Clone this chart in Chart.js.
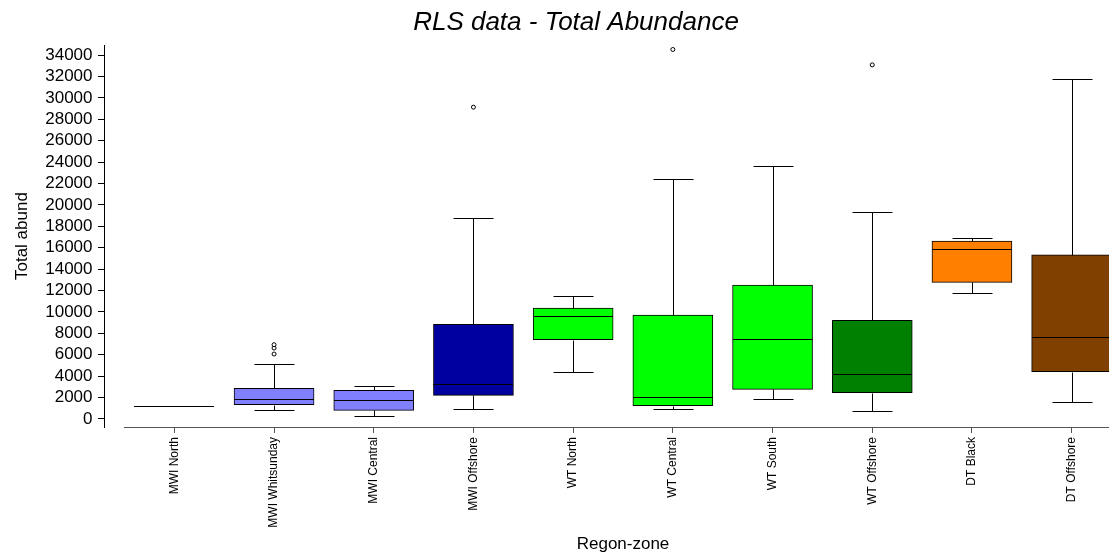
<!DOCTYPE html>
<html>
<head>
<meta charset="utf-8">
<script src="https://cdn.jsdelivr.net/npm/chart.js@4/dist/chart.umd.min.js"></script>
<style>
  html, body { margin: 0; padding: 0; background: #fff; overflow: hidden; }
  #wrap { position: absolute; left: 0; top: 0; width: 1152px; height: 555px; }
</style>
</head>
<body>
<div id="wrap"><canvas id="chart" width="1152" height="555"></canvas></div>
<script>
// Region-zone categories
const regions = ['MWI North', 'MWI Whitsunday', 'MWI Central', 'MWI Offshore', 'WT North',
                 'WT Central', 'WT South', 'WT Offshore', 'DT Black', 'DT Offshore'];

// Box-plot statistics of total abundance per region-zone
const whiskerLow  = [1250,  840,  250,   960,  4360,   900,  1840,   750, 11770,  1590];
const q1          = [1250, 1340,  810,  2210,  7410,  1240,  2770,  2460, 12770,  4420];
const median      = [1250, 1840, 1750,  3270,  9620,  2060,  7500,  4180, 15850,  7630];
const q3          = [1250, 2870, 2680,  8850, 10370,  9710, 12520,  9220, 16630, 15350];
const whiskerHigh = [1250, 5170, 3080, 18780, 11490, 22390, 23600, 19340, 16880, 31790];

// Outlying observations
const outlierRegion = ['MWI Whitsunday', 'MWI Whitsunday', 'MWI Whitsunday', 'MWI Offshore', 'WT Central', 'WT Offshore'];
const outlierValue  = [6070, 6630, 6940, 29140, 34530, 33090];

// Y axis tick values
const yTickValues = [0, 2000, 4000, 6000, 8000, 10000, 12000, 14000, 16000,
                     18000, 20000, 22000, 24000, 26000, 28000, 30000, 32000, 34000];

const boxColors = ['#8080FF', '#8080FF', '#8080FF', '#0000A0', '#00FF00',
                   '#00FF00', '#00FF00', '#008000', '#FF8000', '#804000'];

const Y_MIN = -750;
const Y_MAX = 34930;

Chart.defaults.font.family = '"Liberation Sans", Arial, sans-serif';
Chart.defaults.color = '#000';

// Whiskers, caps and median lines, positioned from the bar elements and y scale
const boxParts = {
  id: 'boxParts',
  afterDatasetsDraw(chart) {
    const meta = chart.getDatasetMeta(0);
    const ys = chart.scales.y;
    const ctx = chart.ctx;
    const py = v => Math.round(ys.getPixelForValue(v)) + 0.5;
    ctx.save();
    ctx.strokeStyle = '#000';
    ctx.lineWidth = 1;
    meta.data.forEach((bar, i) => {
      const cx = Math.round(bar.x) + 0.5;
      const half = bar.width / 2;
      const cap = half / 2;
      ctx.beginPath();
      ctx.moveTo(cx, py(q3[i]));
      ctx.lineTo(cx, py(whiskerHigh[i]));
      ctx.moveTo(cx, py(q1[i]));
      ctx.lineTo(cx, py(whiskerLow[i]));
      ctx.moveTo(cx - cap, py(whiskerHigh[i]));
      ctx.lineTo(cx + cap, py(whiskerHigh[i]));
      ctx.moveTo(cx - cap, py(whiskerLow[i]));
      ctx.lineTo(cx + cap, py(whiskerLow[i]));
      ctx.moveTo(Math.round(bar.x - half), py(median[i]));
      ctx.lineTo(Math.round(bar.x + half), py(median[i]));
      ctx.stroke();
    });
    ctx.restore();
  }
};

const setYTicks = s => { s.ticks = yTickValues.map(v => ({ value: v })); };

new Chart(document.getElementById('chart'), {
  type: 'bar',
  data: {
    labels: regions,
    datasets: [
      {
        type: 'bar',
        data: regions.map((r, i) => [q1[i], q3[i]]),
        backgroundColor: boxColors,
        borderColor: '#000',
        borderWidth: 1,
        borderSkipped: false,
        barThickness: 80,
        xAxisID: 'x',
        yAxisID: 'y'
      },
      {
        type: 'scatter',
        data: outlierRegion.map((r, i) => ({ x: r, y: outlierValue[i] })),
        pointStyle: 'circle',
        pointRadius: 2,
        pointBorderWidth: 1,
        pointBorderColor: '#000',
        pointBackgroundColor: '#fff',
        showLine: false,
        xAxisID: 'x',
        yAxisID: 'y'
      }
    ]
  },
  options: {
    responsive: false,
    animation: false,
    devicePixelRatio: 1,
    layout: { padding: 0 },
    plugins: {
      legend: { display: false },
      tooltip: { enabled: false },
      title: {
        display: true,
        text: 'RLS data - Total Abundance',
        color: '#000',
        font: { size: 26, style: 'italic', weight: 'normal' },
        padding: { top: 7, bottom: 7 }
      }
    },
    scales: {
      // value axis: line and tick marks, set slightly apart from the category axis
      y: {
        type: 'linear',
        position: { x: -0.7 },
        min: Y_MIN,
        max: Y_MAX,
        afterBuildTicks: setYTicks,
        ticks: { display: false },
        grid: { display: true, drawOnChartArea: false, drawTicks: true, tickLength: 6, color: '#000' },
        border: { display: true, color: '#000', width: 1 }
      },
      // value axis labels and title
      yLeft: {
        type: 'linear',
        axis: 'y',
        position: 'left',
        min: Y_MIN,
        max: Y_MAX,
        afterBuildTicks: setYTicks,
        grid: { display: false, drawTicks: false },
        border: { display: false },
        ticks: {
          autoSkip: false,
          padding: 32,
          color: '#000',
          font: { size: 17 },
          callback: v => String(v)
        },
        title: {
          display: true,
          text: 'Total abund',
          color: '#000',
          font: { size: 17 },
          padding: { top: 12, bottom: 0 }
        },
        afterFit: s => { s.width = 124.5; }
      },
      yRight: {
        type: 'linear',
        axis: 'y',
        position: 'right',
        grid: { display: false },
        border: { display: false },
        ticks: { display: false },
        afterFit: s => { s.width = 30.5; }
      },
      x: {
        type: 'category',
        offset: true,
        grid: { display: true, drawOnChartArea: false, offset: false, drawTicks: true, tickLength: 6, color: '#555' },
        border: { display: true, color: '#555', width: 1 },
        ticks: { autoSkip: false, minRotation: 90, maxRotation: 90, padding: 4, color: '#000', font: { size: 12 } },
        title: {
          display: true,
          text: 'Regon-zone',
          color: '#000',
          font: { size: 17 },
          padding: { top: 0, bottom: 0 }
        },
        afterFit: s => { s.height = 128; }
      }
    }
  },
  plugins: [boxParts]
});
</script>
</body>
</html>
